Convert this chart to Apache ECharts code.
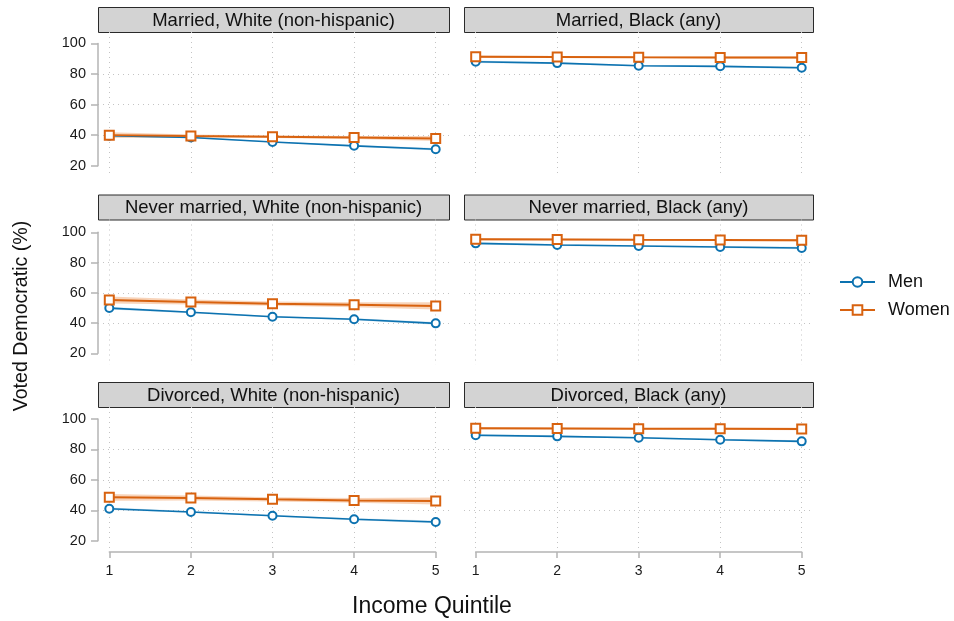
<!DOCTYPE html>
<html>
<head>
<meta charset="utf-8">
<script src="https://cdn.jsdelivr.net/npm/echarts@6/dist/echarts.min.js"></script>
<style>
  html, body { margin: 0; padding: 0; background: #ffffff; }
  #chart { width: 954px; height: 621px; }
</style>
</head>
<body>
<div id="chart"></div>
<script>
// ---- data -------------------------------------------------------------
const quintiles = [1, 2, 3, 4, 5];
const yTicks = [20, 40, 60, 80, 100];
const gridTicks = [40, 60, 80];
const seriesNames = ['Men', 'Women'];

// panels, row by row: left = White (non-hispanic), right = Black (any)
const panelTitles = [
  'Married, White (non-hispanic)', 'Married, Black (any)',
  'Never married, White (non-hispanic)', 'Never married, Black (any)',
  'Divorced, White (non-hispanic)', 'Divorced, Black (any)'
];

const menValues = [
  [39.6, 38.4, 35.5, 33.0, 30.8],
  [88.0, 87.1, 85.4, 85.0, 84.1],
  [49.9, 47.1, 44.2, 42.5, 39.8],
  [92.7, 91.6, 90.9, 90.3, 89.6],
  [41.0, 38.9, 36.4, 34.1, 32.3],
  [89.3, 88.6, 87.7, 86.4, 85.3]
];
const menLower = [
  [38.8, 37.9, 35.1, 32.5, 30.0],
  [87.2, 86.5, 84.9, 84.4, 83.3],
  [49.0, 46.5, 43.7, 41.9, 38.9],
  [91.9, 91.0, 90.4, 89.7, 88.8],
  [40.1, 38.3, 35.9, 33.5, 31.4],
  [88.5, 88.0, 87.2, 85.8, 84.5]
];
const menUpper = [
  [40.4, 38.9, 35.9, 33.5, 31.6],
  [88.8, 87.7, 85.9, 85.6, 84.9],
  [50.8, 47.7, 44.7, 43.1, 40.7],
  [93.5, 92.2, 91.4, 90.9, 90.4],
  [41.9, 39.5, 36.9, 34.7, 33.2],
  [90.1, 89.2, 88.2, 87.0, 86.1]
];

const womenValues = [
  [40.0, 39.4, 38.9, 38.4, 37.8],
  [91.3, 91.1, 90.9, 90.8, 90.7],
  [55.2, 53.9, 52.8, 52.1, 51.3],
  [95.4, 95.3, 95.0, 94.9, 94.8],
  [48.5, 48.1, 47.2, 46.5, 46.1],
  [93.9, 93.8, 93.6, 93.6, 93.4]
];
const womenLower = [
  [38.2, 38.4, 38.1, 37.4, 36.2],
  [90.5, 90.5, 90.4, 90.2, 89.9],
  [52.9, 52.3, 51.4, 50.5, 48.9],
  [94.6, 94.7, 94.5, 94.3, 94.0],
  [46.3, 46.5, 45.8, 44.9, 43.8],
  [93.1, 93.2, 93.1, 93.0, 92.6]
];
const womenUpper = [
  [41.8, 40.4, 39.7, 39.4, 39.4],
  [92.1, 91.7, 91.4, 91.4, 91.5],
  [57.5, 55.5, 54.2, 53.7, 53.7],
  [96.2, 95.9, 95.5, 95.5, 95.6],
  [50.7, 49.7, 48.6, 48.1, 48.4],
  [94.7, 94.4, 94.1, 94.2, 94.2]
];

// ---- layout (pixels) --------------------------------------------------
const FONT = '"Liberation Sans", Arial, Helvetica, sans-serif';
const BLUE = '#0c72b0';
const ORANGE = '#d8620f';
const BLUE_BAND = 'rgba(12,114,176,0.18)';
const ORANGE_BAND = 'rgba(232,120,40,0.32)';
const AXIS_GRAY = '#b4b4b4';

const cols = [
  { outerL: 98, outerR: 449, innerL: 109.3, innerR: 435.7 },
  { outerL: 464, outerR: 813, innerL: 475.7, innerR: 801.7 }
];
const rows = [
  { hdrTop: 7, outerTop: 32, innerTop: 43.4, innerBottom: 165.7, outerBottom: 177 },
  { hdrTop: 194.5, outerTop: 219.5, innerTop: 232.3, innerBottom: 353.3, outerBottom: 364.6 },
  { hdrTop: 382, outerTop: 407, innerTop: 419, innerBottom: 540.7, outerBottom: 552 }
];

const X_MIN = quintiles[0], X_MAX = quintiles[quintiles.length - 1];
const Y_MIN = yTicks[0], Y_MAX = yTicks[yTicks.length - 1];

const grids = [], xAxes = [], yAxes = [], series = [], graphics = [];

panelTitles.forEach(function (title, p) {
  const r = rows[Math.floor(p / 2)];
  const c = cols[p % 2];
  const isLeft = p % 2 === 0;
  const isBottom = Math.floor(p / 2) === rows.length - 1;

  // pixel -> value conversion for the padded plot region
  const pxX = (c.innerR - c.innerL) / (X_MAX - X_MIN);
  const pxY = (r.innerBottom - r.innerTop) / (Y_MAX - Y_MIN);
  const oxMin = X_MIN - (c.innerL - c.outerL) / pxX;
  const oxMax = X_MAX + (c.outerR - c.innerR) / pxX;
  const oyMin = Y_MIN - (r.outerBottom - r.innerBottom) / pxY;
  const oyMax = Y_MAX + (r.innerTop - r.outerTop) / pxY;

  const outer = grids.length;
  // padded region: dotted grid lines only
  grids.push({ left: c.outerL, top: r.outerTop, width: c.outerR - c.outerL,
               height: r.outerBottom - r.outerTop, outerBoundsMode: 'none', containLabel: false });
  xAxes.push({
    gridIndex: outer, type: 'value', min: oxMin, max: oxMax,
    axisLine: { show: false }, axisLabel: { show: false },
    axisTick: { show: false, customValues: quintiles },
    splitLine: { show: true, lineStyle: { color: '#c4c4c4', width: 1, type: [1, 4] } }
  });
  yAxes.push({
    gridIndex: outer, type: 'value', min: oyMin, max: oyMax,
    axisLine: { show: false }, axisLabel: { show: false },
    axisTick: { show: false, customValues: gridTicks },
    splitLine: { show: true, lineStyle: { color: '#c4c4c4', width: 1, type: [1, 4] } }
  });

  const inner = grids.length;
  // data region: axes, ticks, labels and the series
  grids.push({ left: c.innerL, top: r.innerTop, width: c.innerR - c.innerL,
               height: r.innerBottom - r.innerTop, outerBoundsMode: 'none', containLabel: false });
  xAxes.push({
    gridIndex: inner, type: 'value', min: X_MIN, max: X_MAX, interval: 1,
    show: isBottom, position: 'bottom', offset: r.outerBottom - r.innerBottom,
    axisLine: { show: true, onZero: false, lineStyle: { color: AXIS_GRAY, width: 1.5 } },
    axisTick: { show: true, length: 6, lineStyle: { color: AXIS_GRAY, width: 1.5 } },
    axisLabel: { show: true, margin: 12, fontFamily: FONT, fontSize: 14, color: '#1a1a1a' },
    splitLine: { show: false }
  });
  yAxes.push({
    gridIndex: inner, type: 'value', min: Y_MIN, max: Y_MAX, interval: 20,
    show: isLeft, position: 'left', offset: c.innerL - c.outerL,
    axisLine: { show: true, onZero: false, lineStyle: { color: AXIS_GRAY, width: 1.5 } },
    axisTick: { show: true, length: 7, lineStyle: { color: AXIS_GRAY, width: 1.5 } },
    axisLabel: { show: true, margin: 12, fontFamily: FONT, fontSize: 14.5, color: '#1a1a1a' },
    splitLine: { show: false }
  });

  // confidence band as one polygon through the library's scales
  function band(lo, hi, fill) {
    return {
      type: 'custom', xAxisIndex: inner, yAxisIndex: inner, silent: true, z: 1,
      data: quintiles.map(function (q, i) { return [q, lo[i], hi[i]]; }),
      renderItem: function (params, api) {
        if (params.dataIndex !== 0) return null;
        const top = quintiles.map(function (q, i) { return api.coord([q, hi[i]]); });
        const bottom = quintiles.map(function (q, i) { return api.coord([q, lo[i]]); }).reverse();
        return { type: 'polygon', shape: { points: top.concat(bottom) }, style: { fill: fill } };
      }
    };
  }
  series.push(band(menLower[p], menUpper[p], BLUE_BAND));
  series.push(band(womenLower[p], womenUpper[p], ORANGE_BAND));

  series.push({
    name: seriesNames[0], type: 'line', xAxisIndex: inner, yAxisIndex: inner, z: 3,
    data: quintiles.map(function (q, i) { return [q, menValues[p][i]]; }),
    symbol: 'emptyCircle', symbolSize: 8, showAllSymbol: true,
    lineStyle: { color: BLUE, width: 1.6 },
    itemStyle: { color: BLUE, borderColor: BLUE, borderWidth: 1.6 },
    emphasis: { disabled: true }, animation: false
  });
  series.push({
    name: seriesNames[1], type: 'line', xAxisIndex: inner, yAxisIndex: inner, z: 4,
    data: quintiles.map(function (q, i) { return [q, womenValues[p][i]]; }),
    symbol: 'emptyRect', symbolSize: 9, showAllSymbol: true,
    lineStyle: { color: ORANGE, width: 2 },
    itemStyle: { color: ORANGE, borderColor: ORANGE, borderWidth: 1.8 },
    emphasis: { disabled: true }, animation: false
  });

  // panel header strip
  graphics.push({
    type: 'group', children: [
      { type: 'rect', shape: { x: c.outerL + 0.5, y: r.hdrTop + 0.5, width: c.outerR - c.outerL, height: r.outerTop - r.hdrTop },
        style: { fill: '#d3d3d3', stroke: '#2a2a2a', lineWidth: 1 } },
      { type: 'text', x: (c.outerL + c.outerR) / 2, y: (r.hdrTop + r.outerTop) / 2 + 1,
        style: { text: title, fill: '#111111', font: '18.5px ' + FONT, textAlign: 'center', textVerticalAlign: 'middle' } }
    ]
  });
});

// axis titles
graphics.push({
  type: 'text', x: 22, y: 316, rotation: Math.PI / 2,
  style: { text: 'Voted Democratic (%)', fill: '#111111', font: '19.6px ' + FONT, textAlign: 'center', textVerticalAlign: 'middle' }
});
graphics.push({
  type: 'text', x: 432, y: 607,
  style: { text: 'Income Quintile', fill: '#111111', font: '23px ' + FONT, textAlign: 'center', textVerticalAlign: 'middle' }
});

const chart = echarts.init(document.getElementById('chart'), null, { renderer: 'canvas' });
chart.setOption({
  backgroundColor: '#ffffff',
  animation: false,
  grid: grids,
  xAxis: xAxes,
  yAxis: yAxes,
  legend: {
    data: seriesNames, orient: 'vertical', left: 834, top: 268,
    itemWidth: 35, itemHeight: 12, itemGap: 10,
    textStyle: { fontFamily: FONT, fontSize: 18, color: '#111111', padding: [0, 0, 0, 8] },
    selectedMode: false
  },
  series: series,
  graphic: graphics
});
</script>
</body>
</html>
